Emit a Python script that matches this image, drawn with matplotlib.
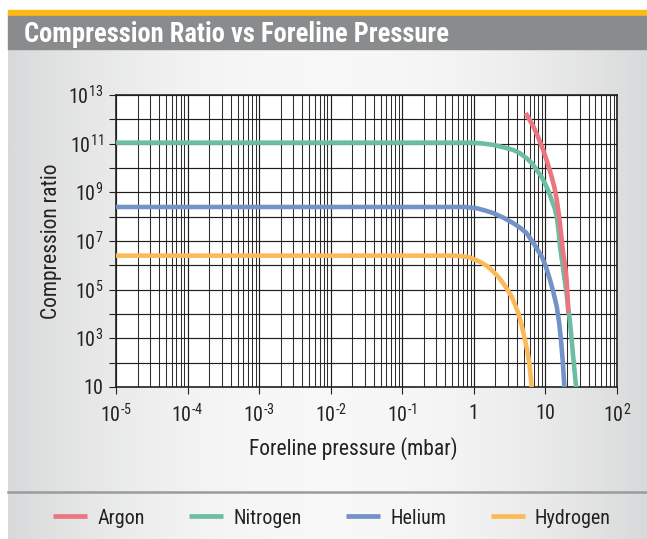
import numpy as np
import matplotlib
matplotlib.use('Agg')
import matplotlib.pyplot as plt
import matplotlib.ticker as mticker
from matplotlib.patches import Rectangle
from matplotlib.lines import Line2D
from matplotlib.colors import LinearSegmentedColormap

plt.rcParams['font.family'] = ['Roboto Condensed', 'DejaVu Sans']
plt.rcParams['mathtext.fontset'] = 'custom'
plt.rcParams['mathtext.rm'] = 'Roboto Condensed'
plt.rcParams['mathtext.it'] = 'Roboto Condensed'

# values (pressure in mbar, compression ratio)
argon_p = [5.3, 5.9, 6.8, 7.87, 9.3, 10.7, 12.2, 13.4, 14.4, 15.5, 16.5,
           17.6, 18.8, 19.8, 20.4, 20.9]
argon_c = [1.8e12, 1.05e12, 5.0e11, 1.9e11, 5.5e10, 1.6e10, 4.4e9, 1.5e9,
           4.9e8, 1.07e8, 2.1e7, 3.6e6, 9.3e5, 2.5e5, 5.5e4, 1.1e4]

nitrogen_p = [1e-5, 0.9, 1.22, 1.87, 2.55, 3.56, 4.42, 5.47, 6.49, 7.55, 8.67,
              9.86, 11.0, 12.2, 13.4, 14.4, 15.2, 16.0, 17.6, 19.4, 22.1,
              24.3, 26.8]
nitrogen_c = [1.1e11, 1.1e11, 1.05e11, 8.9e10, 7.2e10, 5.5e10, 4.0e10, 2.5e10,
              1.55e10, 8.3e9, 4.7e9, 2.3e9, 1.15e9, 4.9e8, 2.3e8, 1.0e8, 2.8e7,
              5.9e6, 7.8e5, 9.8e4, 4.3e3, 210, 10]

helium_p = [1e-5, 0.75, 1.107, 1.43, 1.87, 2.55, 3.56, 4.42, 5.47, 6.92, 8.87,
            10.2, 11.6, 13.0, 14.4, 15.5, 16.5, 17.5, 18.4]
helium_c = [2.5e8, 2.5e8, 2.2e8, 1.8e8, 1.4e8, 9.3e7, 5.4e7, 3.5e7, 2.1e7,
            7.6e6, 2.3e6, 8.5e5, 2.5e5, 7.2e4, 2.0e4, 4.7e3, 8.5e2, 107, 10]

hydrogen_p = [1e-5, 0.55, 0.83, 1.22, 1.53, 1.87, 2.21, 2.58, 2.95, 3.38, 3.76,
              4.18, 4.68, 5.19, 5.58, 5.96, 6.43]
hydrogen_c = [2.5e6, 2.5e6, 2.2e6, 1.4e6, 9.3e5, 5.5e5, 3.3e5, 1.8e5, 1.0e5,
              5.1e4, 2.4e4, 1.1e4, 3.2e3, 8.5e2, 300, 94, 10]

gases = ['Argon', 'Nitrogen', 'Helium', 'Hydrogen']
colors = ['#EC7582', '#6CBEA3', '#7392C8', '#FCB95A']
series = [(argon_p, argon_c), (nitrogen_p, nitrogen_c),
          (helium_p, helium_c), (hydrogen_p, hydrogen_c)]

y_exps = list(range(1, 14))
x_exps = list(range(-5, 3))
x_labels = [r'$10^{\text{-}5}$', r'$10^{\text{-}4}$', r'$10^{\text{-}3}$',
            r'$10^{\text{-}2}$', r'$10^{\text{-}1}$', '1', '10', r'$10^{2}$']

W, H = 647, 539
fig = plt.figure(figsize=(W / 100, H / 100), dpi=100)
fig.patch.set_facecolor('white')

# gradient background panel
bg = fig.add_axes([8 / W, 0, 1 - 8 / W, 1 - 49 / H])
t = np.linspace(0, 1, 300)
grad = 1 - 0.55 * (2 * t - 1) ** 2
cmap = LinearSegmentedColormap.from_list('bg', ['#D8D9DA', '#F8F8F8'])
bg.imshow(grad[None, :], aspect='auto', cmap=cmap, vmin=0.45, vmax=1,
          extent=[0, 1, 0, 1])
bg.axis('off')

# header bars
fig.patches.append(Rectangle((8 / W, 1 - 16 / H), 1 - 8 / W, 6 / H,
                             transform=fig.transFigure, color='#FDB913'))
fig.patches.append(Rectangle((8 / W, 1 - 49 / H), 1 - 8 / W, 33 / H,
                             transform=fig.transFigure, color='#898B8C'))
fig.text(24 / W, 1 - 34 / H, 'Compression Ratio vs Foreline Pressure',
         color='white', fontsize=19.1, fontweight='bold', va='center',
         ha='left')

# separator above legend
fig.add_artist(Line2D([8 / W, 1], [1 - 492 / H, 1 - 492 / H],
                      color='#9A9B9C', lw=1.8, transform=fig.transFigure))

ax = fig.add_axes([116 / W, 1 - 387 / H, 501 / W, 292 / H])
ax.set_facecolor('white')
ax.set_xscale('log')
ax.set_yscale('log')
ax.set_xlim(1e-5, 1e2)
ax.set_ylim(10, 1e13)

handles = []
for name, col, (p, c) in zip(gases[::-1], colors[::-1], series[::-1]):
    ln, = ax.plot(p, c, color=col, lw=3.3, solid_capstyle='butt',
                  solid_joinstyle='round', label=name, zorder=3)
    handles.append(ln)
handles = handles[::-1]

ax.set_yticks([10.0 ** k for k in y_exps])
ax.set_yticklabels(['10' if k == 1 else (r'$10^{%d}$' % k if k % 2 else '')
                    for k in y_exps])
ax.yaxis.set_minor_locator(mticker.NullLocator())
ax.set_xticks([10.0 ** k for k in x_exps])
ax.set_xticklabels(x_labels)
ax.xaxis.set_minor_locator(mticker.LogLocator(base=10, subs=np.arange(2, 10),
                                              numticks=100))
ax.xaxis.set_minor_formatter(mticker.NullFormatter())

ax.grid(True, which='major', axis='both', color='#1e1e1e', lw=0.85)
ax.grid(True, which='minor', axis='x', color='#2e2e2e', lw=0.75)
ax.tick_params(axis='both', which='major', direction='out', length=5,
               width=0.8, color='#222222', labelsize=14.5, labelcolor='#222222')
ax.tick_params(axis='x', which='major', pad=7)
ax.tick_params(axis='y', which='major', pad=4)
ax.tick_params(axis='x', which='minor', length=0)
for s in ax.spines.values():
    s.set_color('#222222')
    s.set_linewidth(1.2)

ax.set_xlabel('Foreline pressure (mbar)', fontsize=15.5, color='#222222')
ax.xaxis.set_label_coords((353 - 116) / 501, -(437 - 387) / 292)
ax.set_ylabel('Compression ratio', fontsize=15.5, color='#222222')
ax.yaxis.set_label_coords(-(116 - 62) / 501, 0.5)

fig.legend(handles, gases, loc='center', ncol=4, frameon=False,
           bbox_to_anchor=(332 / W, 1 - 518 / H), fontsize=14.5,
           handlelength=1.7, handletextpad=0.5, columnspacing=2.2,
           labelcolor='#222222')
for lh in fig.legends[0].get_lines():
    lh.set_linewidth(3.4)

fig.savefig('out.png', dpi=100)
